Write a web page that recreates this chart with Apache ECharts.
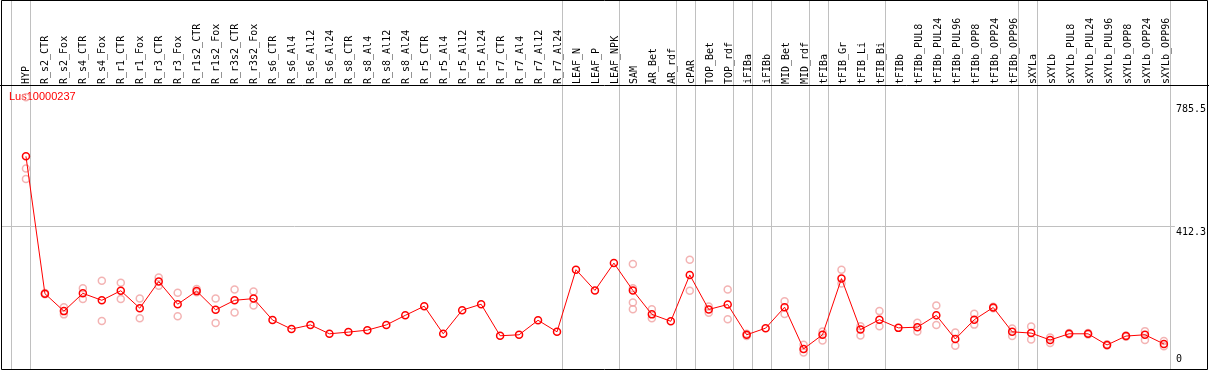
<!DOCTYPE html>
<html>
<head>
<meta charset="utf-8">
<script src="https://cdn.jsdelivr.net/npm/echarts@6/dist/echarts.min.js"></script>
<style>
  html, body { margin: 0; padding: 0; background: #fff; }
  #chart { width: 1209px; height: 370px; }
</style>
</head>
<body>
<div id="chart"></div>
<script>
// 样本名称（表头竖排）
const categories = [
  'HYP', 'R_s2_CTR', 'R_s2_Fox', 'R_s4_CTR', 'R_s4_Fox', 'R_r1_CTR', 'R_r1_Fox', 'R_r3_CTR', 'R_r3_Fox',
  'R_r1s2_CTR', 'R_r1s2_Fox', 'R_r3s2_CTR', 'R_r3s2_Fox',
  'R_s6_CTR', 'R_s6_Al4', 'R_s6_Al12', 'R_s6_Al24', 'R_s8_CTR', 'R_s8_Al4', 'R_s8_Al12', 'R_s8_Al24',
  'R_r5_CTR', 'R_r5_Al4', 'R_r5_Al12', 'R_r5_Al24', 'R_r7_CTR', 'R_r7_Al4', 'R_r7_Al12', 'R_r7_Al24',
  'LEAF_N', 'LEAF_P', 'LEAF_NPK', 'SAM', 'AR_Bet', 'AR_rdf', 'cPAR', 'TOP_Bet', 'TOP_rdf',
  'iFIBa', 'iFIBb', 'MID_Bet', 'MID_rdf', 'tFIBa', 'tFIB_Gr', 'tFIB_Li', 'tFIB_Bi',
  'tFIBb', 'tFIBb_PUL8', 'tFIBb_PUL24', 'tFIBb_PUL96', 'tFIBb_OPP8', 'tFIBb_OPP24', 'tFIBb_OPP96',
  'sXYLa', 'sXYLb', 'sXYLb_PUL8', 'sXYLb_PUL24', 'sXYLb_PUL96', 'sXYLb_OPP8', 'sXYLb_OPP24', 'sXYLb_OPP96'
];

// 平均表达量（红色折线）
const means = [
  626.2, 208.0, 154.9, 209.0, 187.9, 217.0, 163.9, 245.0, 175.9,
  215.8, 158.8, 187.9, 193.0,
  127.9, 100.3, 112.9, 85.9, 91.0, 97.0, 112.9, 142.0,
  169.9, 85.9, 157.9, 175.9, 79.9, 82.9, 127.0, 91.9,
  281.0, 218.0, 301.1, 218.0, 145.0, 124.0, 265.1, 160.0, 175.0,
  82.9, 103.0, 166.9, 39.9, 82.9, 254.0, 98.8, 128.8,
  103.9, 106.0, 142.0, 70.0, 128.8, 166.0, 91.9,
  88.0, 67.0, 85.9, 85.9, 51.9, 79.0, 82.9, 54.9
];

// 各样本重复值（浅红空心圆）
const replicates = [
  [806.4, 589.3, 557.2], [210.0, 206.0], [166.9, 145.0], [224.9, 191.8], [247.1, 124.9],
  [241.1, 191.8], [193.0, 133.0], [257.0, 232.0], [211.0, 139.0],
  [221.9, 212.0], [193.0, 118.9], [221.0, 151.0], [215.0, 172.0],
  [], [], [], [], [], [], [], [],
  [], [], [], [], [], [], [], [],
  [], [], [], [298.1, 224.9, 181.0, 160.9], [160.9, 133.0], [], [311.0, 217.0], [169.0, 149.8], [221.0, 130.0],
  [79.0, 86.0], [], [184.9, 145.9], [52.8, 28.8], [92.8, 65.7], [281.0, 239.0], [109.0, 80.8], [154.9, 109.0],
  [], [119.8, 92.8], [172.0, 112.9], [89.8, 49.8], [146.8, 113.8], [168.0, 164.0], [101.8, 79.0],
  [107.8, 68.7], [74.8, 57.9], [88.0, 84.0], [88.0, 84.0], [54.0, 50.0], [81.0, 77.0], [94.0, 67.0], [63.9, 47.7]
];

// 分组竖线所在的位置（在该样本左侧）
const groupStarts = [0, 1, 29, 32, 35, 36, 38, 39, 40, 42, 43, 46, 53, 54];

const geneId = 'Lus10000237';
const yTicksMax = 785.5;
const yTickMid = 412.3;

const meanData = means.map((v, i) => [i, v]);
const repData = [];
replicates.forEach((list, i) => {
  list.forEach((v) => repData.push([i, v]));
});

const monoFont = '"DejaVu Sans Mono", monospace';

const myChart = echarts.init(document.getElementById('chart'));
const option = {
  backgroundColor: '#fff',
  animation: false,
  grid: [
    // 竖线
    { left: 11, right: 39, top: 0, bottom: 1 },
    // 表头标签
    { left: 16.5, right: 33.5, top: 85, bottom: 1 },
    // 绘图区
    { left: 1, right: 32, top: 104, bottom: 4.4 }
  ],
  xAxis: [
    {
      type: 'category',
      gridIndex: 0,
      data: categories,
      boundaryGap: true,
      axisLine: { show: false },
      axisTick: { show: false },
      axisLabel: { show: false },
      splitLine: {
        show: true,
        interval: (index) => groupStarts.indexOf(index) !== -1,
        lineStyle: { color: '#c0c0c0', width: 1 }
      }
    },
    {
      type: 'category',
      gridIndex: 1,
      position: 'top',
      data: categories,
      boundaryGap: true,
      axisLine: { show: false },
      axisTick: { show: false },
      splitLine: { show: false },
      axisLabel: {
        interval: 0,
        rotate: 90,
        margin: 1,
        color: '#000',
        fontFamily: monoFont,
        fontSize: 10
      }
    },
    {
      type: 'value',
      gridIndex: 2,
      min: -25 / 19,
      max: (1176 - 25) / 19,
      show: false
    }
  ],
  yAxis: [
    { type: 'value', gridIndex: 0, show: false },
    { type: 'value', gridIndex: 1, show: false },
    {
      type: 'value',
      gridIndex: 2,
      position: 'right',
      min: 0,
      max: yTicksMax,
      interval: yTickMid,
      axisLine: { show: false },
      axisTick: { show: false },
      splitLine: {
        show: true,
        showMinLine: false,
        showMaxLine: false,
        lineStyle: { color: '#c0c0c0', width: 1 }
      },
      axisLabel: {
        margin: 1,
        color: '#000',
        fontFamily: monoFont,
        fontSize: 10,
        formatter: (v) => (v === 0 ? '{b|0}' : `{t|${v}}`),
        rich: {
          t: { fontFamily: monoFont, fontSize: 10, lineHeight: 10, padding: [11, 0, 0, 0] },
          b: { fontFamily: monoFont, fontSize: 10, lineHeight: 10, padding: [0, 0, 6, 0] }
        }
      }
    }
  ],
  series: [
    {
      name: 'replicates',
      type: 'scatter',
      xAxisIndex: 2,
      yAxisIndex: 2,
      clip: false,
      symbol: 'circle',
      symbolSize: 7,
      itemStyle: { color: 'transparent', borderColor: '#f0a0a0', borderWidth: 1.5 },
      z: 2,
      data: repData
    },
    {
      name: 'mean',
      type: 'line',
      xAxisIndex: 2,
      yAxisIndex: 2,
      clip: false,
      symbol: 'circle',
      symbolSize: 7,
      showAllSymbol: true,
      lineStyle: { color: '#ff0000', width: 1 },
      itemStyle: { color: 'transparent', borderColor: '#ff0000', borderWidth: 1.5 },
      z: 3,
      data: meanData
    }
  ],
  graphic: [
    {
      type: 'rect',
      shape: { x: 1.5, y: 0.5, width: 1206, height: 369 },
      style: { fill: 'none', stroke: '#000', lineWidth: 1 },
      z: 10
    },
    {
      type: 'line',
      shape: { x1: 0, y1: 85.5, x2: 1209, y2: 85.5 },
      style: { stroke: '#000', lineWidth: 1 },
      z: 10
    },
    {
      type: 'text',
      left: 9,
      top: 91,
      style: {
        text: geneId,
        fill: '#ff0000',
        font: '11px "Liberation Sans", Arial, sans-serif'
      },
      z: 1
    }
  ]
};
myChart.setOption(option);
</script>
</body>
</html>
